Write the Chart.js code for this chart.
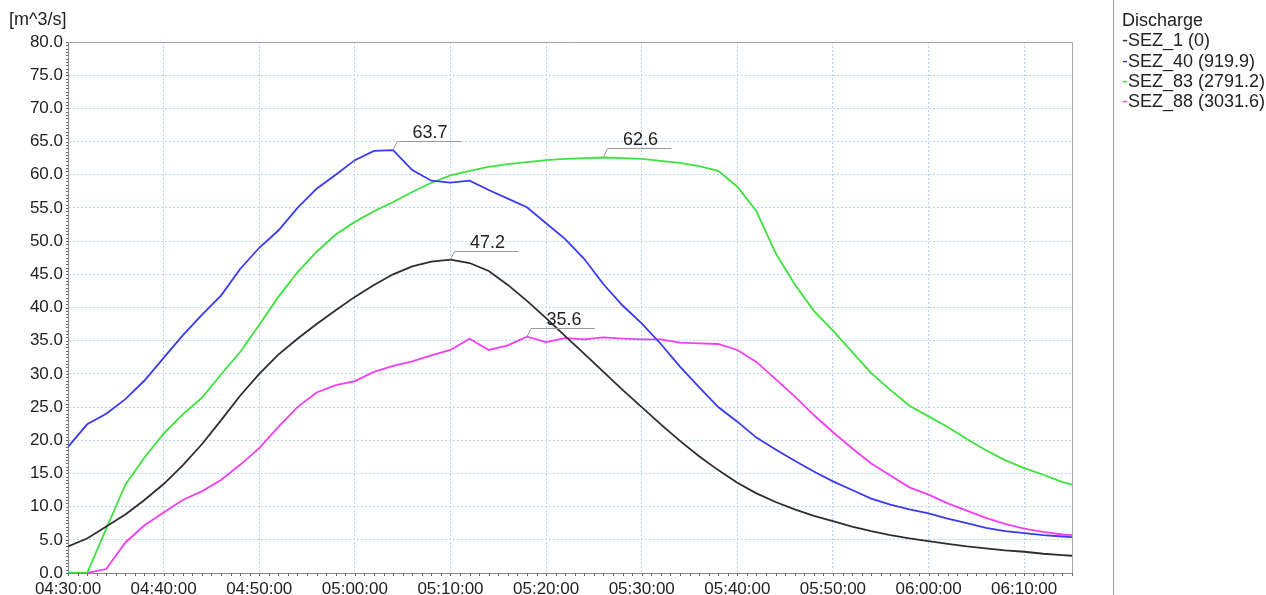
<!DOCTYPE html>
<html>
<head>
<meta charset="utf-8">
<script src="https://cdn.jsdelivr.net/npm/chart.js@4.4.1/dist/chart.umd.min.js"></script>
<style>
  html, body { margin: 0; padding: 0; background: #fff; }
  #wrap { position: relative; width: 1266px; height: 595px; overflow: hidden; }
  #chart { position: absolute; left: 0; top: 0; }
  #unit { position: absolute; left: 9px; top: 9px; font: 18px "Liberation Sans", Arial, sans-serif; color: #222; }
  #sep { position: absolute; left: 1113px; top: 0; width: 1px; height: 595px; background: #9a9a9a; }
  #legend { position: absolute; left: 1122px; top: 10px; font: 18px "Liberation Sans", Arial, sans-serif; line-height: 20.3px; color: #222; white-space: nowrap; }
</style>
</head>
<body>
<div id="wrap">
  <canvas id="chart" width="1266" height="595"></canvas>
  <div id="unit">[m^3/s]</div>
  <div id="sep"></div>
  <div id="legend"></div>
</div>
<script>
// Time axis: minutes after 04:30:00
const startMinute = 4 * 60 + 30;
const minutes = [0, 2, 4, 6, 8, 10, 12, 14, 16, 18, 20, 22, 24, 26, 28, 30, 32, 34, 36, 38,
  40, 42, 44, 46, 48, 50, 52, 54, 56, 58, 60, 62, 64, 66, 68, 70, 72, 74, 76, 78,
  80, 82, 84, 86, 88, 90, 92, 94, 96, 98, 100, 102, 104, 105];

// Discharge per section [m^3/s]
const sez1 = [4.0, 5.2, 7.0, 8.8, 11.0, 13.4, 16.2, 19.4, 23.0, 26.7, 30.0, 32.9, 35.3, 37.5, 39.6, 41.6, 43.4, 45.0, 46.2, 46.9,
  47.2, 46.7, 45.5, 43.4, 41.0, 38.4, 35.7, 33.0, 30.3, 27.6, 25.0, 22.4, 19.9, 17.6, 15.5, 13.6, 12.0, 10.7, 9.6, 8.6,
  7.8, 7.0, 6.3, 5.7, 5.2, 4.8, 4.4, 4.0, 3.7, 3.4, 3.2, 2.9, 2.7, 2.6];
const sez40 = [19.0, 22.4, 24.0, 26.2, 29.0, 32.4, 35.8, 38.9, 41.8, 45.8, 49.0, 51.6, 55.0, 57.9, 60.0, 62.2, 63.6, 63.7, 60.7, 59.1,
  58.8, 59.1, 57.7, 56.4, 55.1, 52.7, 50.3, 47.3, 43.5, 40.3, 37.6, 34.5, 31.1, 28.0, 25.0, 22.8, 20.4, 18.6, 16.9, 15.3,
  13.8, 12.5, 11.2, 10.3, 9.6, 9.0, 8.2, 7.5, 6.8, 6.3, 6.0, 5.7, 5.5, 5.4];
const sez83 = [0.0, 0.0, 6.7, 13.3, 17.4, 21.0, 23.9, 26.4, 29.9, 33.3, 37.4, 41.6, 45.3, 48.4, 51.0, 52.9, 54.5, 55.9, 57.4, 58.8,
  59.9, 60.6, 61.2, 61.6, 61.9, 62.2, 62.4, 62.5, 62.6, 62.5, 62.4, 62.1, 61.8, 61.3, 60.6, 58.2, 54.5, 48.2, 43.5, 39.5,
  36.5, 33.3, 30.1, 27.6, 25.2, 23.6, 22.0, 20.2, 18.5, 17.0, 15.8, 14.8, 13.7, 13.3];
const sez88 = [0.0, 0.0, 0.6, 4.6, 7.2, 9.1, 11.0, 12.3, 14.0, 16.3, 18.8, 22.0, 25.0, 27.2, 28.3, 28.9, 30.3, 31.2, 31.9, 32.8,
  33.6, 35.3, 33.6, 34.3, 35.6, 34.8, 35.4, 35.2, 35.5, 35.3, 35.2, 35.2, 34.7, 34.6, 34.5, 33.6, 31.8, 29.2, 26.6, 23.8,
  21.2, 18.8, 16.5, 14.7, 12.9, 11.8, 10.5, 9.4, 8.3, 7.4, 6.7, 6.2, 5.8, 5.7];

const seriesNames = ['SEZ_1', 'SEZ_40', 'SEZ_83', 'SEZ_88'];
const seriesVolumes = ['0', '919.9', '2791.2', '3031.6'];
const seriesColors = ['#2e2e2e', '#3a3af2', '#3ee23e', '#f23ef2'];
const seriesValues = [sez1, sez40, sez83, sez88];
const legendTitle = 'Discharge';

const FONT = '"Liberation Sans", Arial, sans-serif';

function timeLabel(m) {
  const t = startMinute + m;
  const hh = String(Math.floor(t / 60)).padStart(2, '0');
  const mm = String(t % 60).padStart(2, '0');
  return hh + ':' + mm + ':00';
}

// Legend panel on the right
const legendEl = document.getElementById('legend');
legendEl.innerHTML = '<div>' + legendTitle + '</div>' + seriesNames.map((n, i) =>
  '<div><span style="color:' + seriesColors[i] + '">-</span>' + n + ' (' + seriesVolumes[i] + ')</div>').join('');

// Frame, minor ticks
const framePlugin = {
  id: 'frame',
  afterDraw(chart) {
    const { ctx, chartArea: a, scales: { x, y } } = chart;
    ctx.save();
    ctx.lineWidth = 1;
    ctx.strokeStyle = '#a8a8a8';
    ctx.beginPath();
    ctx.moveTo(a.left, a.top + 0.5); ctx.lineTo(a.right + 0.5, a.top + 0.5);
    ctx.lineTo(a.right + 0.5, a.bottom);
    ctx.stroke();
    ctx.strokeStyle = '#666';
    ctx.beginPath();
    for (let v = 0; v <= 80; v += 0.5) {
      const py = Math.round(y.getPixelForValue(v)) + 0.5;
      ctx.moveTo(a.left - 2, py); ctx.lineTo(a.left, py);
    }
    for (let m = 0; m <= 105; m += 1) {
      const px = Math.round(x.getPixelForValue(m)) + 0.5;
      ctx.moveTo(px, a.bottom); ctx.lineTo(px, a.bottom + 3);
    }
    ctx.stroke();
    ctx.restore();
  }
};

// Peak value callouts for every series
const peakPlugin = {
  id: 'peaks',
  afterDatasetsDraw(chart) {
    const { ctx, scales: { x, y } } = chart;
    ctx.save();
    chart.data.datasets.forEach(ds => {
      let best = 0;
      ds.data.forEach((p, i) => { if (p.y > ds.data[best].y) best = i; });
      const p = ds.data[best];
      const px = x.getPixelForValue(p.x);
      const py = y.getPixelForValue(p.y);
      const ly = Math.round(py - 9) + 0.5;
      ctx.strokeStyle = '#999';
      ctx.lineWidth = 1;
      ctx.beginPath();
      ctx.moveTo(px, py);
      ctx.lineTo(px + 4, ly);
      ctx.lineTo(px + 68, ly);
      ctx.stroke();
      ctx.fillStyle = '#222';
      ctx.font = '18px ' + FONT;
      ctx.textAlign = 'center';
      ctx.textBaseline = 'alphabetic';
      ctx.fillText(p.y.toFixed(1), px + 37, ly - 4);
    });
    ctx.restore();
  }
};

const gridColor = '#bcd5f2';

new Chart(document.getElementById('chart'), {
  type: 'line',
  data: {
    datasets: seriesValues.map((vals, i) => ({
      label: seriesNames[i],
      data: vals.map((v, k) => ({ x: minutes[k], y: v })),
      borderColor: seriesColors[i],
      borderWidth: 1.8,
      pointRadius: 0,
      tension: 0,
      fill: false
    }))
  },
  options: {
    responsive: false,
    animation: false,
    devicePixelRatio: 1,
    layout: { padding: { top: 42, right: 194, left: 0, bottom: 0 } },
    plugins: { legend: { display: false }, tooltip: { enabled: false } },
    scales: {
      x: {
        type: 'linear',
        min: 0,
        max: 105,
        afterFit(s) { s.height = 22; },
        afterBuildTicks(s) { s.ticks = s.ticks.filter(t => t.value % 10 === 0); },
        ticks: {
          stepSize: 10,
          autoSkip: false,
          maxRotation: 0,
          padding: 6,
          color: '#222',
          font: { family: FONT, size: 17 },
          callback: v => timeLabel(v)
        },
        grid: { color: gridColor, lineWidth: 1, drawTicks: false },
        border: { color: '#888', dash: [2, 2] }
      },
      y: {
        min: 0,
        max: 80,
        afterFit(s) { s.width = 68; },
        ticks: {
          stepSize: 5,
          padding: 5,
          color: '#222',
          font: { family: FONT, size: 17 },
          callback: v => v.toFixed(1)
        },
        grid: { color: gridColor, lineWidth: 1, drawTicks: false },
        border: { color: '#888', dash: [2, 2] }
      }
    }
  },
  plugins: [framePlugin, peakPlugin]
});
</script>
</body>
</html>
